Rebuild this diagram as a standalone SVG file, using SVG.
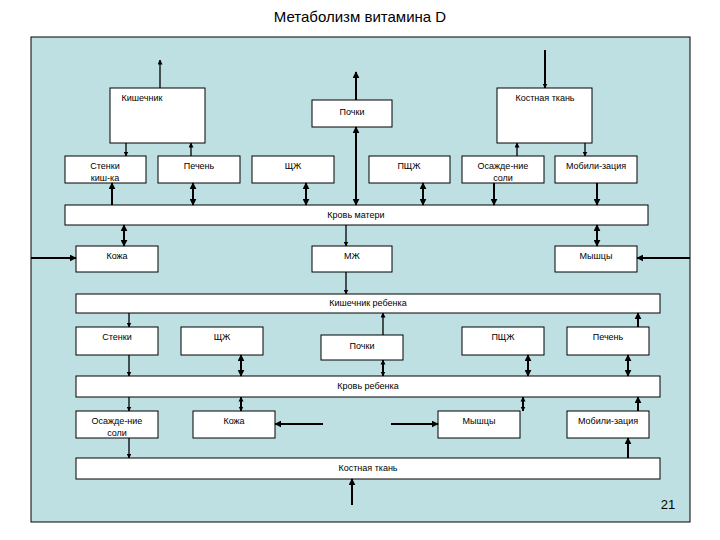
<svg xmlns="http://www.w3.org/2000/svg" width="720" height="540" viewBox="0 0 720 540">
<defs>
<marker id="a" viewBox="0 0 10 10" refX="9" refY="5" markerWidth="5" markerHeight="5" orient="auto-start-reverse" markerUnits="userSpaceOnUse"><path d="M0,0L10,5L0,10z" fill="#000"/></marker>
<marker id="b" viewBox="0 0 10 10" refX="9" refY="5" markerWidth="7" markerHeight="7" orient="auto-start-reverse" markerUnits="userSpaceOnUse"><path d="M0,0L10,5L0,10z" fill="#000"/></marker>
<marker id="s" viewBox="0 0 10 10" refX="9" refY="5" markerWidth="5" markerHeight="6" orient="auto-start-reverse" markerUnits="userSpaceOnUse"><path d="M0,0L10,5L0,10z" fill="#000"/></marker>
</defs>
<style>
.n rect{fill:#fff;stroke:#000;stroke-width:1}
text{font-family:"Liberation Sans",Arial,sans-serif;font-size:9px;fill:#000;text-anchor:middle}
.c line{stroke:#000;stroke-width:1.3}
.t line{stroke-width:2}
</style>
<rect width="720" height="540" fill="#fff"/>
<text x="360" y="22" style="font-size:15px">Метаболизм витамина D</text>
<rect x="31" y="37" width="659" height="485" fill="#bfe0e3" stroke="#000"/>
<g class="n">
<g id="kish"><rect x="110" y="88" width="95" height="55"/><text x="142" y="101">Кишечник</text></g>
<g id="pochki1"><rect x="312" y="100" width="80" height="27"/><text x="352" y="115">Почки</text></g>
<g id="kost1"><rect x="497" y="88" width="95" height="55"/><text x="545" y="101">Костная ткань</text></g>
<g id="stenki1"><rect x="65" y="156" width="81" height="27"/><text x="105" y="169">Стенки</text><text x="105" y="181">киш-ка</text></g>
<g id="pechen1"><rect x="158" y="156" width="82" height="27"/><text x="199" y="169">Печень</text></g>
<g id="shzh1"><rect x="252" y="156" width="82" height="27"/><text x="293" y="169">ЩЖ</text></g>
<g id="pshzh1"><rect x="369" y="156" width="81" height="27"/><text x="409" y="169">ПЩЖ</text></g>
<g id="osazh1"><rect x="462" y="156" width="82" height="27"/><text x="503" y="169">Осажде-ние</text><text x="503" y="181">соли</text></g>
<g id="mobil1"><rect x="555" y="156" width="82" height="27"/><text x="596" y="169">Мобили-зация</text></g>
<g id="krov1"><rect x="65" y="205" width="583" height="20"/><text x="356" y="218">Кровь матери</text></g>
<g id="kozha1"><rect x="76" y="246" width="82" height="26"/><text x="117" y="259">Кожа</text></g>
<g id="mzh"><rect x="312" y="246" width="80" height="26"/><text x="352" y="259">МЖ</text></g>
<g id="myshcy1"><rect x="555" y="246" width="82" height="26"/><text x="596" y="259">Мышцы</text></g>
<g id="kish2"><rect x="76" y="294" width="584" height="19"/><text x="368" y="306">Кишечник  ребенка</text></g>
<g id="stenki2"><rect x="76" y="327" width="82" height="28"/><text x="117" y="340">Стенки</text></g>
<g id="shzh2"><rect x="181" y="327" width="82" height="28"/><text x="222" y="340">ЩЖ</text></g>
<g id="pochki2"><rect x="321" y="335" width="82" height="25"/><text x="362" y="349">Почки</text></g>
<g id="pshzh2"><rect x="462" y="327" width="82" height="28"/><text x="503" y="340">ПЩЖ</text></g>
<g id="pechen2"><rect x="567" y="327" width="82" height="28"/><text x="608" y="340">Печень</text></g>
<g id="krov2"><rect x="76" y="376" width="584" height="21"/><text x="368" y="389">Кровь ребенка</text></g>
<g id="osazh2"><rect x="76" y="411" width="82" height="27"/><text x="117" y="424">Осажде-ние</text><text x="117" y="436">соли</text></g>
<g id="kozha2"><rect x="193" y="411" width="82" height="27"/><text x="234" y="424">Кожа</text></g>
<g id="myshcy2"><rect x="438" y="411" width="82" height="27"/><text x="479" y="424">Мышцы</text></g>
<g id="mobil2"><rect x="567" y="411" width="82" height="27"/><text x="608" y="424">Мобили-зация</text></g>
<g id="kost2"><rect x="76" y="458" width="584" height="21"/><text x="368" y="471">Костная ткань</text></g>
</g>
<g class="c">
<line x1="160" y1="88" x2="160" y2="60" marker-end="url(#a)"/>
<line x1="545" y1="50" x2="545" y2="88" marker-end="url(#a)" style="stroke-width:2"/>
<line x1="126" y1="143" x2="126" y2="156" marker-end="url(#a)"/>
<line x1="191" y1="156" x2="191" y2="143" marker-end="url(#a)"/>
<line x1="517" y1="156" x2="517" y2="143" marker-end="url(#a)"/>
<line x1="585" y1="143" x2="585" y2="156" marker-end="url(#a)"/>
<line x1="129" y1="313" x2="129" y2="327" marker-end="url(#a)"/>
<line x1="129" y1="355" x2="129" y2="376" marker-end="url(#a)"/>
<line x1="129" y1="397" x2="129" y2="411" marker-end="url(#a)"/>
<line x1="129" y1="438" x2="129" y2="458" marker-end="url(#a)"/>
<line x1="383" y1="335" x2="383" y2="313" marker-end="url(#a)"/>
<line x1="346" y1="225" x2="346" y2="246" marker-end="url(#a)"/>
<line x1="346" y1="272" x2="346" y2="294" marker-end="url(#a)"/>
</g>
<g class="c t">
<line x1="356" y1="100" x2="356" y2="72" marker-end="url(#b)"/>
<line x1="356" y1="127" x2="356" y2="205" marker-start="url(#b)" marker-end="url(#b)"/>
<line x1="112" y1="205" x2="112" y2="183" marker-end="url(#b)"/>
<line x1="193" y1="183" x2="193" y2="205" marker-start="url(#b)" marker-end="url(#b)"/>
<line x1="306" y1="183" x2="306" y2="205" marker-start="url(#b)" marker-end="url(#b)"/>
<line x1="423" y1="183" x2="423" y2="205" marker-start="url(#b)" marker-end="url(#b)"/>
<line x1="494" y1="183" x2="494" y2="205" marker-end="url(#b)"/>
<line x1="597" y1="183" x2="597" y2="205" marker-end="url(#b)"/>
<line x1="124" y1="225" x2="124" y2="246" marker-start="url(#b)" marker-end="url(#b)"/>
<line x1="597" y1="225" x2="597" y2="246" marker-start="url(#b)" marker-end="url(#b)"/>
<line x1="31" y1="258" x2="76" y2="258" marker-end="url(#b)"/>
<line x1="690" y1="258" x2="637" y2="258" marker-end="url(#b)"/>
<line x1="241" y1="355" x2="241" y2="376" marker-start="url(#b)" marker-end="url(#b)"/>
<line x1="383" y1="360" x2="383" y2="376" marker-start="url(#s)" marker-end="url(#s)"/>
<line x1="528" y1="355" x2="528" y2="376" marker-start="url(#b)" marker-end="url(#b)"/>
<line x1="628" y1="355" x2="628" y2="376" marker-start="url(#b)" marker-end="url(#b)"/>
<line x1="638" y1="327" x2="638" y2="313" marker-end="url(#b)"/>
<line x1="241" y1="397" x2="241" y2="411" marker-start="url(#s)" marker-end="url(#s)"/>
<line x1="523" y1="397" x2="523" y2="411" marker-start="url(#s)" marker-end="url(#s)"/>
<line x1="638" y1="411" x2="638" y2="397" marker-end="url(#b)"/>
<line x1="628" y1="458" x2="628" y2="438" marker-end="url(#b)"/>
<line x1="323" y1="424" x2="275" y2="424" marker-end="url(#b)"/>
<line x1="391" y1="424" x2="438" y2="424" marker-end="url(#b)"/>
<line x1="352" y1="505" x2="352" y2="479" marker-end="url(#b)"/>
</g>
<text x="668" y="509" style="font-size:13px">21</text>
</svg>
